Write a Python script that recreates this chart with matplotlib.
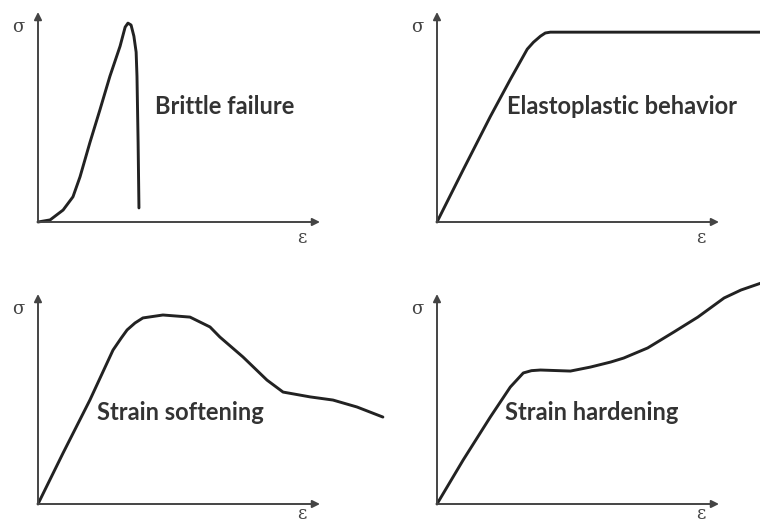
import matplotlib
matplotlib.use('agg')
import matplotlib.pyplot as plt

# stress-strain sketches, arbitrary units (axis arrow tips at 100)
brittle_strain = [0, 4.3, 8.9, 12.4, 14.9, 18.4, 22.0, 25.5, 29.1, 30.9, 31.9, 33.0, 34.0, 34.8, 35.1, 35.5, 35.8]
brittle_stress = [0, 1.0, 5.7, 12.0, 21.5, 37.8, 53.6, 69.4, 83.7, 92.8, 94.7, 93.8, 88.5, 80.9, 69.4, 37.8, 6.7]

elasto_strain = [0, 9.3, 18.9, 26.0, 32.0, 34.2, 36.7, 38.4, 40.2, 115.0]
elasto_stress = [0, 24.9, 50.2, 67.9, 82.3, 85.6, 88.5, 90.0, 90.4, 90.4]

soft_strain = [0, 8.9, 18.4, 26.6, 29.5, 31.6, 34.4, 37.2, 44.3, 53.9, 61.0, 64.5, 72.7, 81.2, 86.9, 96.5, 104.6, 113.1, 122.3]
soft_stress = [0, 24.3, 49.5, 73.3, 79.0, 82.9, 86.2, 88.6, 90.0, 89.0, 84.3, 79.5, 70.0, 59.0, 53.3, 51.0, 49.5, 46.2, 41.4]

hard_strain = [0, 9.3, 18.9, 26.0, 30.6, 33.5, 36.7, 47.3, 54.4, 61.6, 66.2, 74.7, 84.0, 92.5, 101.8, 107.8, 114.9]
hard_stress = [0, 21.0, 41.4, 55.7, 62.4, 63.5, 63.8, 63.3, 65.2, 67.6, 69.5, 74.3, 81.9, 89.0, 98.1, 101.9, 105.2]

panels = [
    (brittle_strain, brittle_stress, 'Brittle failure'),
    (elasto_strain, elasto_stress, 'Elastoplastic behavior'),
    (soft_strain, soft_stress, 'Strain softening'),
    (hard_strain, hard_stress, 'Strain hardening'),
]
label_pos = [(41.5, 55.0), (24.9, 55.0), (20.9, 43.8), (24.2, 43.8)]
eps_y = [-7.7, -7.7, -4.6, -4.6]
# axes origin / size in pixels of a 760x524 canvas
origins = [(38, 222), (437, 222), (38, 504), (437, 504)]
W, H = 760, 524
ax_w, ax_h = 282, 210

fig = plt.figure(figsize=(7.6, 5.24), dpi=100)

for (strain, stress, name), (tx, ty), ey, (ox, oy) in zip(panels, label_pos, eps_y, origins):
    ax = fig.add_axes([ox / W, (H - oy) / H, ax_w / W, ax_h / H])
    ax.set_xlim(0, 100)
    ax.set_ylim(0, 100)
    ax.axis('off')

    arrow = dict(arrowstyle='-|>', color='#444444', lw=1.4, mutation_scale=11,
                 shrinkA=0, shrinkB=0)
    ax.annotate('', xy=(100, 0), xytext=(0, 0), arrowprops=arrow, annotation_clip=False)
    ax.annotate('', xy=(0, 100), xytext=(0, 0), arrowprops=arrow, annotation_clip=False)

    ax.plot(strain, stress, color='#222222', lw=2.1, clip_on=False,
            solid_joinstyle='round', solid_capstyle='round')

    ax.text(-7.1, 93, 'σ', fontsize=13, family='DejaVu Serif', color='#444444',
            ha='center', va='center', clip_on=False)
    ax.text(93.6, ey, 'ε', fontsize=13, family='DejaVu Serif', color='#444444',
            ha='center', va='center', clip_on=False)
    ax.text(tx, ty, name, fontsize=17, family='Lato', fontweight='bold',
            color='#333333', ha='left', va='center')

fig.savefig('out.png', dpi=100, facecolor='white')
